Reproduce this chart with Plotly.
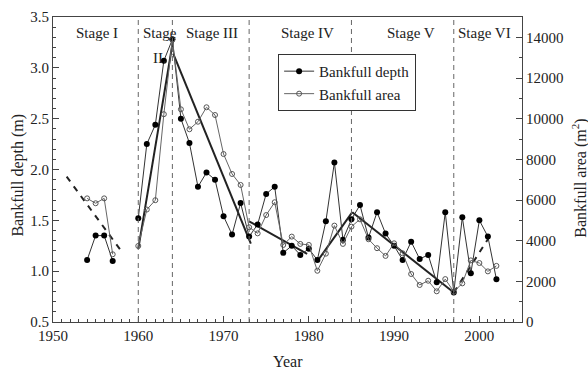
import plotly.graph_objects as go

years = list(range(1954, 2003))
depth = [1.11, 1.35, 1.35, 1.10, None, None,
         1.52, 2.25, 2.44, 3.07, 3.28, 2.50, 2.26, 1.83, 1.97, 1.90,
         1.54, 1.36, 1.67, 1.34, 1.46, 1.76, 1.83, 1.18, 1.25, 1.16,
         1.22, 1.11, 1.49, 2.07, 1.31, 1.51, 1.65, 1.33, 1.58, 1.37,
         1.25, 1.11, 1.29, 1.12, 1.16, 0.89, 1.58, 0.79, 1.53, 0.98,
         1.50, 1.34, 0.92]
area = [6080, 5840, 6080, 3330, None, None,
        3740, 5530, 5990, 10220, 13900, 10460, 9480, 9850, 10560, 10180,
        8260, 7280, 6740, 4660, 4360, 5260, 5890, 3790, 4200, 3840,
        3790, 2520, 3360, 4740, 3840, 4690, 5050, 4070, 3630, 3250,
        3870, 3380, 2360, 1820, 2030, 1510, 2110, 1490, 1900, 3030,
        2900, 2490, 2760]

stage_bounds = [1960, 1964, 1973, 1985, 1997]
stage_names = ["Stage I", "Stage", "Stage III", "Stage IV", "Stage V", "Stage VI"]
label_x = [1955.2, 1962.6, 1968.7, 1979.8, 1992.0, 2000.6]

# trend lines (depth axis)
trend_solid = [
    ([1960.0, 1964.1], [1.22, 3.28]),
    ([1964.1, 1973.2], [3.14, 1.27]),
    ([1973.0, 1979.8], [1.49, 1.17]),
    ([1981.1, 1985.1], [1.11, 1.58]),
    ([1985.1, 1997.0], [1.58, 0.79]),
]
trend_dashed = [
    ([1951.6, 1957.9], [1.93, 1.21]),
    ([1997.0, 2001.5], [0.79, 1.38]),
]

serif = "Liberation Serif"
fig = go.Figure()

for tx, ty in trend_solid:
    fig.add_trace(go.Scatter(x=tx, y=ty, mode="lines", line=dict(color="#222", width=2),
                             showlegend=False, hoverinfo="skip"))
for tx, ty in trend_dashed:
    fig.add_trace(go.Scatter(x=tx, y=ty, mode="lines",
                             line=dict(color="#222", width=2, dash="6px,6px"),
                             showlegend=False, hoverinfo="skip"))

fig.add_trace(go.Scatter(x=years, y=area, yaxis="y2", mode="lines+markers",
                         name="Bankfull area",
                         line=dict(color="#666", width=1),
                         marker=dict(symbol="circle-open", size=5, color="#555",
                                     line=dict(width=1, color="#555")),
                         connectgaps=False))
fig.add_trace(go.Scatter(x=years, y=depth, mode="lines+markers",
                         name="Bankfull depth",
                         line=dict(color="#333", width=1),
                         marker=dict(symbol="circle", size=6, color="black"),
                         connectgaps=False))

shapes = []
for b in stage_bounds:
    shapes.append(dict(type="line", xref="x", yref="paper", x0=b, x1=b, y0=0, y1=1,
                       line=dict(color="#666", width=1, dash="5px,4px")))

annotations = []
for name, lx in zip(stage_names, label_x):
    annotations.append(dict(x=lx, y=0.948, xref="x", yref="paper", text=name,
                            xanchor="center", yanchor="middle",
                            showarrow=False, font=dict(family=serif, size=15, color="#222")))
annotations.append(dict(x=1962.5, y=0.866, xref="x", yref="paper", text="II.",
                        xanchor="center", yanchor="middle",
                        showarrow=False, font=dict(family=serif, size=15, color="#222")))

title_font = dict(family=serif, size=16, color="#222")
annotations += [
    dict(x=-0.0746, y=0.48, xref="paper", yref="paper", text="Bankfull depth (m)",
         textangle=-90, showarrow=False, xanchor="center", yanchor="middle", font=title_font),
    dict(x=1.1237, y=0.47, xref="paper", yref="paper", text="Bankfull area (m<sup>2</sup>)",
         textangle=-90, showarrow=False, xanchor="center", yanchor="middle", font=title_font),
    dict(x=0.5, y=-0.131, xref="paper", yref="paper", text="Year",
         showarrow=False, xanchor="center", yanchor="middle", font=title_font),
]

axis_font = dict(family=serif, size=15, color="#222")

fig.update_layout(
    width=588, height=372,
    margin=dict(l=53, r=66, t=17, b=50, autoexpand=False),
    font=dict(family=serif, size=15, color="#222"),
    plot_bgcolor="white", paper_bgcolor="white",
    showlegend=True,
    legend=dict(x=0.48, y=0.879, xanchor="left", yanchor="top",
                bordercolor="#333", borderwidth=1, bgcolor="white",
                font=dict(family=serif, size=15, color="#222"),
                traceorder="reversed", tracegroupgap=0, itemwidth=30),
    xaxis=dict(range=[1950, 2005], tickvals=[1950, 1960, 1970, 1980, 1990, 2000],
               ticks="inside", ticklen=6, tickcolor="#444", automargin=False,
               minor=dict(dtick=1, ticks="inside", ticklen=3, tickcolor="#444"),
               showline=True, linecolor="#444", linewidth=1, mirror=True,
               showgrid=False, zeroline=False,
               tickfont=axis_font),
    yaxis=dict(range=[0.5, 3.5], dtick=0.5, tickformat=".1f", automargin=False,
               ticks="inside", ticklen=6, tickcolor="#444",
               minor=dict(dtick=0.1, ticks="inside", ticklen=3, tickcolor="#444"),
               showline=True, linecolor="#444", linewidth=1,
               showgrid=False, zeroline=False,
               tickfont=axis_font),
    yaxis2=dict(range=[0, 15000], dtick=2000, overlaying="y", side="right",
                tickformat="d", automargin=False,
                ticks="inside", ticklen=6, tickcolor="#444",
                minor=dict(dtick=1000, ticks="inside", ticklen=3, tickcolor="#444"),
                showline=True, linecolor="#444", linewidth=1,
                showgrid=False, zeroline=False,
                tickfont=axis_font),
    shapes=shapes, annotations=annotations,
)

fig.write_html("out.html")
